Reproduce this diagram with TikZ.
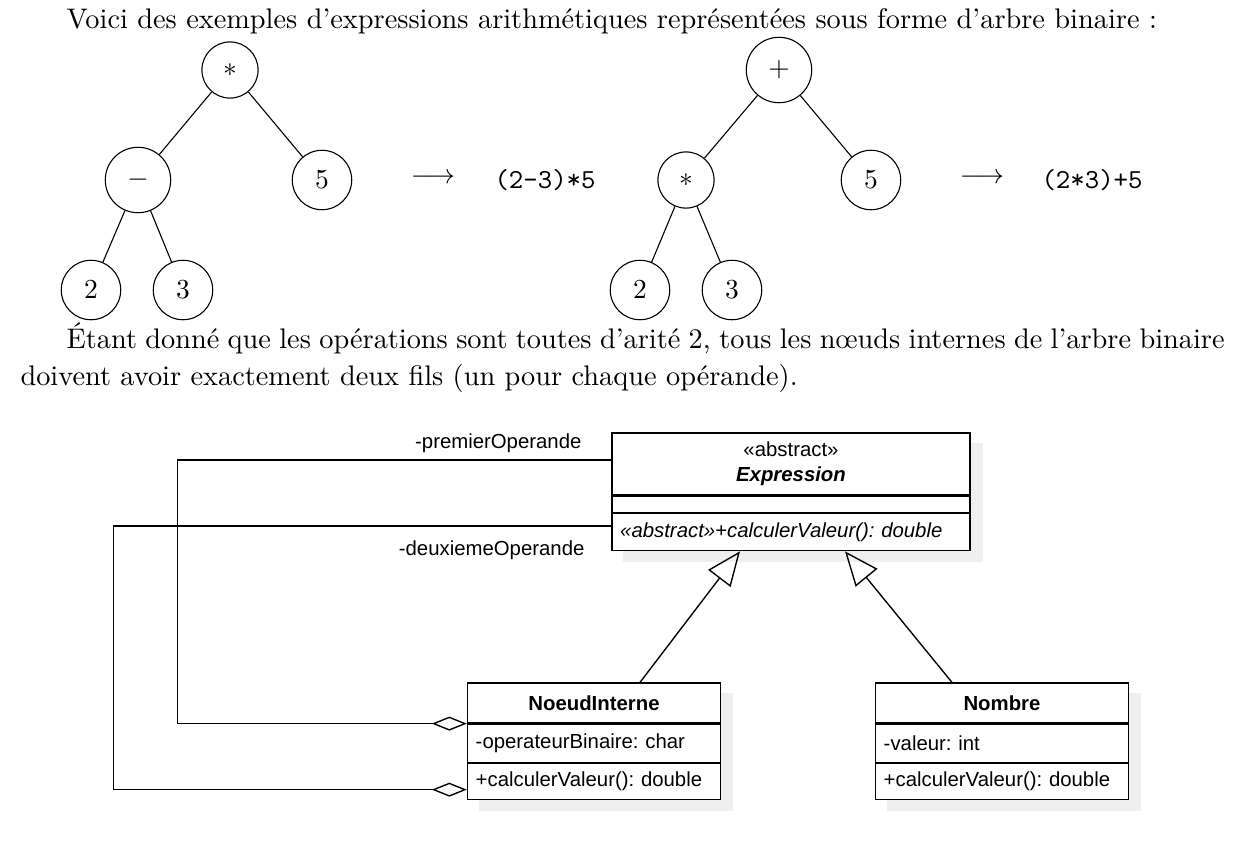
\documentclass[tikz,border=0pt]{standalone}
\usepackage{fontspec}
\newfontfamily\umlfont{Liberation Sans}
\usetikzlibrary{arrows.meta,positioning,backgrounds}
\definecolor{shadowgray}{HTML}{EFEFEF}
\tikzset{
  tree/.style = {circle, draw, inner sep=4.8pt},
  prose/.style = {anchor=base west, inner sep=0pt, font=\fontsize{10.3}{12.4}\selectfont},
  umlpart/.style = {rectangle, draw, line width=0.5pt, fill=white, inner xsep=3pt, inner ysep=1pt, font=\umlfont\fontsize{7.4}{9.1}\selectfont\frenchspacing},
  exprbox/.style = {minimum width=130.2pt, text width=124.2pt},
  classbox/.style = {minimum width=92pt, text width=86pt},
  gen/.style = {line width=0.5pt, -{Triangle[open, length=12.4pt, width=10.2pt]}},
  agg/.style = {line width=0.5pt, {Diamond[open, length=12.7pt, width=5.1pt]}-},
  umllabel/.style = {font=\umlfont\fontsize{7.4}{9.1}\selectfont, inner sep=0pt}
}

\begin{document}
\begin{tikzpicture}[x=0.3636pt, y=-0.3636pt]
\useasboundingbox (0,0) rectangle (1246,846);

\node (intro) [prose] at (66,28) {Voici des exemples d'expressions arithmétiques représentées sous forme d'arbre binaire~:};

% first tree
\node (r1) [tree] at (230,70) {$*$};
\node (m1) [tree] at (138,180) {$-$};
\node (c1) [tree] at (322,180) {$5$};
\node (a1) [tree] at (91,290) {$2$};
\node (b1) [tree] at (183,290) {$3$};
\draw (r1) -- (m1);
\draw (r1) -- (c1);
\draw (m1) -- (a1);
\draw (m1) -- (b1);
\node (arr1) at (433,178) {$\longrightarrow$};
\node (res1) [anchor=west, inner sep=0pt] at (494,180) {\texttt{(2-3)*5}};

% second tree
\node (r2) [tree] at (779,70) {$+$};
\node (m2) [tree] at (686,180) {$*$};
\node (c2) [tree] at (871,180) {$5$};
\node (a2) [tree] at (640,290) {$2$};
\node (b2) [tree] at (732,290) {$3$};
\draw (r2) -- (m2);
\draw (r2) -- (c2);
\draw (m2) -- (a2);
\draw (m2) -- (b2);
\node (arr2) at (982,178) {$\longrightarrow$};
\node (res2) [anchor=west, inner sep=0pt] at (1041,180) {\texttt{(2*3)+5}};

\node (line1) [prose] at (66,348) {\makebox[421.1pt][s]{Étant donné que les opérations sont toutes d'arité 2, tous les nœuds internes de l'arbre binaire}};
\node (line2) [prose] at (20,385) {doivent avoir exactement deux fils (un pour chaque opérande).};

% class diagram
\node (exhead) [umlpart, exprbox, minimum height=22.5pt, align=center] at (791,464) {«abstract»\\\textbf{\textit{Expression}}};
\node (exattr) [umlpart, minimum width=130.2pt, minimum height=5.8pt, below=0pt of exhead] {};
\node (exmeth) [umlpart, exprbox, minimum height=13.45pt, align=left, below=0pt of exattr] {\textit{«abstract»+calculerValeur(): double}};

\node (nihead) [umlpart, classbox, minimum height=14.5pt, align=center] at (594,703) {\textbf{NoeudInterne}};
\node (niattr) [umlpart, classbox, minimum height=13.8pt, align=left, below=0pt of nihead] {-operateurBinaire: char};
\node (nimeth) [umlpart, classbox, minimum height=13.1pt, align=left, below=0pt of niattr] {+calculerValeur(): double};

\node (nohead) [umlpart, classbox, minimum height=14.5pt, align=center] at (1002,703) {\textbf{Nombre}};
\node (noattr) [umlpart, classbox, minimum height=13.8pt, align=left, below=0pt of nohead] {-valeur: int};
\node (nometh) [umlpart, classbox, minimum height=13.1pt, align=left, below=0pt of noattr] {+calculerValeur(): double};

\begin{scope}[on background layer]
\fill[shadowgray] ([shift={(12,11)}]exhead.north west) rectangle ([shift={(12,11)}]exmeth.south east);
\fill[shadowgray] ([shift={(12,11)}]nihead.north west) rectangle ([shift={(12,11)}]nimeth.south east);
\fill[shadowgray] ([shift={(12,11)}]nohead.north west) rectangle ([shift={(12,11)}]nometh.south east);
\end{scope}

\draw[gen] ([shift={(46,0)}]nihead.north) -- ([shift={(-51,0)}]exmeth.south);
\draw[gen] ([shift={(-50,0)}]nohead.north) -- ([shift={(54,0)}]exmeth.south);

\draw[agg] (nihead.south west) -- ++(-289,0) |- ([shift={(0,-4)}]exhead.west);
\draw[agg] ([shift={(0,8)}]nimeth.west) -- ++(-353,0) |- ([shift={(0,-6)}]exmeth.west);
\node (prem) [umllabel, anchor=east] at (582,443) {-premierOperande};
\node (deux) [umllabel, anchor=east] at (585,550) {-deuxiemeOperande};

\end{tikzpicture}
\end{document}
